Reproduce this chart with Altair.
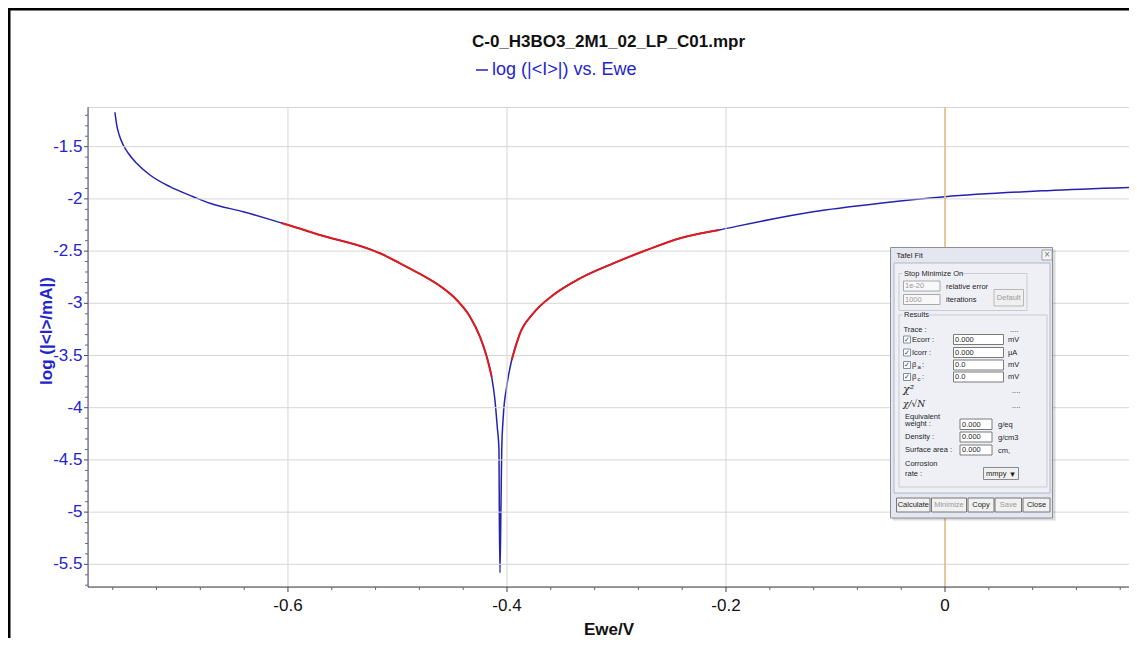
import altair as alt
import pandas as pd

# ---------------- data ----------------
TITLE = "C-0_H3BO3_2M1_02_LP_C01.mpr"
SERIES = "log (|<I>|) vs. Ewe"
X_TITLE = "Ewe/V"
Y_TITLE = "log (|<I>/mA|)"

ewe = [-0.7580, -0.7564, -0.7541, -0.7504, -0.7458, -0.7382, -0.7260, -0.7078, -0.6865, -0.6712,
       -0.6408, -0.6058, -0.5997, -0.5708, -0.5251, -0.5160, -0.4977, -0.4795, -0.4612, -0.4459,
       -0.4338, -0.4247, -0.4185, -0.4140, -0.4110, -0.4089, -0.4073, -0.4070, -0.4064,
       -0.4055, -0.4048, -0.4034, -0.4003, -0.3957, -0.3881, -0.3760, -0.3577, -0.3333,
       -0.3029, -0.2724, -0.2420, -0.2064, -0.1205, -0.0594, 0.0, 0.0932, 0.1753]
log_i = [-1.170, -1.292, -1.388, -1.484, -1.563, -1.659, -1.771, -1.883, -1.979, -2.042,
         -2.123, -2.231, -2.250, -2.346, -2.483, -2.521, -2.617, -2.719, -2.834, -2.968,
         -3.128, -3.320, -3.511, -3.703, -3.926, -4.182, -4.405, -5.000, -5.580,
         -4.950, -4.405, -4.086, -3.799, -3.543, -3.287, -3.096, -2.920, -2.761,
         -2.617, -2.490, -2.377, -2.298, -2.123, -2.042, -1.979, -1.921, -1.889]

FIT_RANGE = [-0.606, -0.206]     # Tafel fit window (red)
E_CORR = -0.4064
MARKER_E = [0.0]                 # vertical cursor line

X_DOMAIN = [-0.7826, 0.1680]
Y_DOMAIN = [-5.717, -1.120]
X_TICKS = [-0.6, -0.4, -0.2, 0]
X_LABELS = ["-0.6", "-0.4", "-0.2", "0"]
Y_TICKS = [-5.5, -5, -4.5, -4, -3.5, -3, -2.5, -2, -1.5]
Y_LABELS = ["-5.5", "-5", "-4.5", "-4", "-3.5", "-3", "-2.5", "-2", "-1.5"]
X_MINOR = [-0.76, -0.72, -0.68, -0.64, -0.56, -0.52, -0.48, -0.44, -0.36, -0.32,
           -0.28, -0.24, -0.16, -0.12, -0.08, -0.04, 0.04, 0.08, 0.12, 0.16]
Y_MINOR = [-5.7, -5.6, -5.4, -5.3, -5.2, -5.1, -4.9, -4.8, -4.7, -4.6, -4.4, -4.3, -4.2, -4.1,
           -3.9, -3.8, -3.7, -3.6, -3.4, -3.3, -3.2, -3.1, -2.9, -2.8, -2.7, -2.6, -2.4, -2.3,
           -2.2, -2.1, -1.9, -1.8, -1.7, -1.6, -1.4, -1.3, -1.2]

# ---------------- styles ----------------
BLUE_LINE = "#2323b0"
RED_LINE = "#e01b1b"
AXIS_BLUE = "#2424cc"
ORANGE = "#e8bb7c"
GRID = "#d6d6d6"
FONT = "Liberation Sans"
W, H = 1041, 480
PLOT_X0, PLOT_Y0 = 88, 107   # plot origin on the page (used to place guides and overlay)


def to_ewe(px):
    return X_DOMAIN[0] + (px - PLOT_X0) / W * (X_DOMAIN[1] - X_DOMAIN[0])


def to_log(py):
    return Y_DOMAIN[1] - (py - PLOT_Y0) / H * (Y_DOMAIN[1] - Y_DOMAIN[0])


xs = alt.Scale(domain=X_DOMAIN, nice=False, zero=False)
ys = alt.Scale(domain=Y_DOMAIN, nice=False, zero=False)


def X(f):
    return alt.X(f"{f}:Q", scale=xs, axis=None)


def Y(f):
    return alt.Y(f"{f}:Q", scale=ys, axis=None)


curve = pd.DataFrame({"ewe": ewe, "logi": log_i})
curve["series"] = SERIES
curve["order"] = range(len(curve))

fit = curve[(curve.ewe >= FIT_RANGE[0]) & (curve.ewe <= FIT_RANGE[1]) & (curve.logi > -3.75)].copy()
fit["side"] = ["c" if e < E_CORR else "a" for e in fit.ewe]

# ---------------- guides: grid, axis lines, ticks, labels, titles ----------------
PLOT_BOTTOM = PLOT_Y0 + H
xt = pd.DataFrame({"ewe": X_TICKS, "lab": X_LABELS})
xt["y0"], xt["y1"] = Y_DOMAIN[0], Y_DOMAIN[1]
xt["t1"] = to_log(PLOT_BOTTOM + 5)
xt["ly"] = to_log(PLOT_BOTTOM + 19)
yt = pd.DataFrame({"logi": Y_TICKS, "lab": Y_LABELS})
yt["x0"], yt["x1"] = X_DOMAIN[0], X_DOMAIN[1]
yt["t1"] = to_ewe(PLOT_X0 - 4)
yt["lx"] = to_ewe(PLOT_X0 - 5.5)

x_grid = alt.Chart(xt).mark_rule(color=GRID, strokeWidth=1).encode(x=X("ewe"), y=Y("y0"), y2="y1:Q")
y_grid = alt.Chart(yt).mark_rule(color=GRID, strokeWidth=1).encode(y=Y("logi"), x=X("x0"), x2="x1:Q")
x_ticks = alt.Chart(xt).mark_rule(color="#404040").encode(x=X("ewe"), y=Y("y0"), y2="t1:Q")
y_ticks = alt.Chart(yt).mark_rule(color="#4a4a70").encode(y=Y("logi"), x=X("t1"), x2="x0:Q")
x_labels = alt.Chart(xt).mark_text(font=FONT, fontSize=17, color="#111111", align="center",
                                   baseline="middle").encode(x=X("ewe"), y=Y("ly"), text="lab:N")
y_labels = alt.Chart(yt).mark_text(font=FONT, fontSize=17, color=AXIS_BLUE, align="right",
                                   baseline="middle").encode(x=X("lx"), y=Y("logi"), text="lab:N")

x_dom = pd.DataFrame({"x": [X_DOMAIN[0]], "x2": [X_DOMAIN[1]], "y": [Y_DOMAIN[0]]})
x_domain = alt.Chart(x_dom).mark_rule(strokeWidth=1, color="#404040").encode(
    x=X("x"), x2="x2:Q", y=Y("y"))
y_dom = pd.DataFrame({"x": [X_DOMAIN[0]], "y": [Y_DOMAIN[0]], "y2": [Y_DOMAIN[1]]})
y_domain = alt.Chart(y_dom).mark_rule(strokeWidth=1, color="#4a4a70").encode(
    x=X("x"), y=Y("y"), y2="y2:Q")

titles = pd.DataFrame({"t": [X_TITLE], "x": [to_ewe(609)], "y": [to_log(630)]})
x_title = alt.Chart(titles).mark_text(font=FONT, fontSize=17, fontWeight="bold", color="#111111",
                                      baseline="middle").encode(x=X("x"), y=Y("y"), text="t:N")
ytitles = pd.DataFrame({"t": [Y_TITLE], "x": [to_ewe(47)], "y": [to_log(331)]})
y_title = alt.Chart(ytitles).mark_text(font=FONT, fontSize=17, fontWeight="bold", color=AXIS_BLUE,
                                       baseline="middle", angle=270).encode(x=X("x"), y=Y("y"), text="t:N")

xm = pd.DataFrame({"ewe": X_MINOR})
xm["y0"] = Y_DOMAIN[0]
xm["y1"] = to_log(PLOT_BOTTOM + 3)
xminor = alt.Chart(xm).mark_rule(color="#666666").encode(x=X("ewe"), y=Y("y0"), y2="y1:Q")
ym = pd.DataFrame({"logi": Y_MINOR})
ym["x0"] = to_ewe(PLOT_X0 - 3)
ym["x1"] = X_DOMAIN[0]
yminor = alt.Chart(ym).mark_rule(color="#666688").encode(y=Y("logi"), x=X("x0"), x2="x1:Q")

# ---------------- data marks ----------------
blue = alt.Chart(curve).mark_line(strokeWidth=1.5, interpolate="monotone", clip=True).encode(
    x=X("ewe"), y=Y("logi"), order="order:Q",
    color=alt.Color("series:N", scale=alt.Scale(domain=[SERIES], range=[BLUE_LINE]),
                    legend=alt.Legend(title=None, orient="none", legendX=385, legendY=-46,
                                      symbolType="stroke", symbolSize=144, symbolStrokeWidth=1.5,
                                      labelFont=FONT, labelFontSize=18, labelColor=AXIS_BLUE,
                                      labelOffset=1)),
)
red = alt.Chart(fit).mark_line(strokeWidth=2, color=RED_LINE, interpolate="monotone", clip=True).encode(
    x=X("ewe"), y=Y("logi"), order="order:Q", detail="side:N")
marker = alt.Chart(pd.DataFrame({"ewe": MARKER_E})).mark_rule(color=ORANGE, strokeWidth=1.5).encode(
    x=X("ewe"))

# black frame of the screenshot (left and top edges)
frame = pd.DataFrame({
    "x": [to_ewe(9), to_ewe(7.5)],
    "x2": [to_ewe(9), to_ewe(PLOT_X0 + W)],
    "y": [to_log(7.5), to_log(9)],
    "y2": [to_log(660), to_log(9)],
})
frame_rules = alt.Chart(frame).mark_rule(color="black", strokeWidth=3).encode(
    x=X("x"), x2="x2:Q", y=Y("y"), y2="y2:Q")

# ---------------- "Tafel Fit" dialog overlay (page pixel layout) ----------------
PANEL = "#eef0f6"
rect_rows = [
    (892, 249, 1055, 520, "#000000", "transparent", 0.07),
    (893, 250, 1056, 521, "#000000", "transparent", 0.07),
    (890.5, 247.5, 1052.5, 518, "#e4e7ef", "#8e8e96", 1),
    (1042, 250, 1052, 260, "#f6f6f6", "#a0a0a8", 1),
    (894, 263, 1050, 493, PANEL, "#b4b6c4", 1),
    (899, 273.5, 1027, 310.5, "transparent", "#c8cad4", 1),
    (899, 315, 1047, 487, "transparent", "#c8cad4", 1),
    (902, 269, 961, 278, PANEL, "transparent", 1),
    (902, 311, 929, 319, PANEL, "transparent", 1),
    (903.5, 281, 940, 291, "#f8f8f8", "#a8a8a8", 1),
    (903.5, 294.5, 940, 304.5, "#f8f8f8", "#a8a8a8", 1),
    (994, 289.5, 1023.5, 306, "#f0f0f0", "#b8b8b8", 1),
]
ROWS = [339.5, 352.5, 365, 377]
for yc in ROWS:
    rect_rows.append((903.5, yc - 3.5, 910.5, yc + 3.5, "#ffffff", "#7f8ea0", 1))
    rect_rows.append((953.5, yc - 5, 1003.5, yc + 5, "#ffffff", "#7a7a7a", 1))
for (y1, y2) in [(419, 429.5), (432, 442), (445, 455)]:
    rect_rows.append((960, y1, 992, y2, "#ffffff", "#7a7a7a", 1))
rect_rows.append((983.5, 467.5, 1018.5, 479.5, "#f0f0f0", "#8a8a8a", 1))
for (x1, x2) in [(896.5, 930), (931.5, 966.5), (968, 994), (995, 1021.5), (1023, 1050)]:
    rect_rows.append((x1, 498, x2, 512, "#f1f1f1", "#767676", 1))

rects = pd.DataFrame(rect_rows, columns=["x", "y", "x2", "y2", "f", "s", "o"])
rects["x"] = rects["x"].map(to_ewe)
rects["x2"] = rects["x2"].map(to_ewe)
rects["y"] = rects["y"].map(to_log)
rects["y2"] = rects["y2"].map(to_log)
rects["k"] = range(len(rects))

INK, DIM = "#1e1e1e", "#9a9a9a"
left_text = [
    (896.5, 255.5, "Tafel Fit", INK, 7.5),
    (904, 273.5, "Stop Minimize On", INK, 7.5),
    (905, 286, "1e-20", DIM, 7.5),
    (905, 299.5, "1000", DIM, 7.5),
    (946, 286.5, "relative error", INK, 7.5),
    (946, 300, "iterations", INK, 7.5),
    (904, 315, "Results", INK, 7.5),
    (903.5, 329.5, "Trace :", INK, 7.5),
    (1010, 330, "....", INK, 7.5),
    (912, 339.5, "Ecorr :", INK, 7.5),
    (912, 352.5, "Icorr :", INK, 7.5),
    (912, 365, "β", INK, 7.5), (917.5, 367, "a", INK, 6), (922, 365, ":", INK, 7.5),
    (912, 377, "β", INK, 7.5), (917.5, 379, "c", INK, 6), (922, 377, ":", INK, 7.5),
    (955, 339.5, "0.000", INK, 7.5), (955, 352.5, "0.000", INK, 7.5),
    (955, 365, "0.0", INK, 7.5), (955, 377, "0.0", INK, 7.5),
    (1008, 339.5, "mV", INK, 7.5), (1008, 352.5, "µA", INK, 7.5),
    (1008, 365, "mV", INK, 7.5), (1008, 377, "mV", INK, 7.5),
    (1012, 391, "....", INK, 7.5), (1012, 406, "....", INK, 7.5),
    (905, 417, "Equivalent", INK, 7.5), (905, 424, "weight :", INK, 7.5),
    (962, 424.5, "0.000", INK, 7.5), (998, 425, "g/eq", INK, 7.5),
    (905, 437, "Density :", INK, 7.5), (962, 437, "0.000", INK, 7.5), (998, 438, "g/cm3", INK, 7.5),
    (905, 450, "Surface area :", INK, 7.5), (962, 450, "0.000", INK, 7.5), (998, 451, "cm,", INK, 7.5),
    (905, 464, "Corrosion", INK, 7.5), (905, 473.5, "rate :", INK, 7.5),
    (986, 473.5, "mmpy", INK, 7.5),
]
center_text = [
    (1008.7, 297.8, "Default", DIM, 7.5),
    (913.3, 505, "Calculate", INK, 7.5),
    (949, 505, "Minimize", DIM, 7.5),
    (981, 505, "Copy", INK, 7.5),
    (1008.3, 505, "Save", DIM, 7.5),
    (1036.5, 505, "Close", INK, 7.5),
]
symbol_text = [(907, 339.5, "✓", "#3a3a70", 7), (907, 352.5, "✓", "#3a3a70", 7),
               (907, 365, "✓", "#3a3a70", 7), (907, 377, "✓", "#3a3a70", 7),
               (1012.5, 473.5, "▾", INK, 9), (1047, 255, "×", "#707070", 8)]
serif_text = [(903, 390, "χ²", INK, 11), (903, 404, "χ/√N", INK, 9)]


def tdf(rows):
    d = pd.DataFrame(rows, columns=["x", "y", "t", "c", "sz"])
    d["x"] = d["x"].map(to_ewe)
    d["y"] = d["y"].map(to_log)
    return d


dlg_rects = alt.Chart(rects).mark_rect(strokeWidth=1).encode(
    x=X("x"), x2="x2:Q", y=Y("y"), y2="y2:Q",
    fill=alt.Fill("f:N", scale=None, legend=None),
    stroke=alt.Stroke("s:N", scale=None, legend=None),
    opacity=alt.Opacity("o:Q", scale=None, legend=None),
    order="k:Q",
)


def text_layer(rows, align, font, style="normal"):
    return alt.Chart(tdf(rows)).mark_text(align=align, baseline="middle", font=font,
                                          fontStyle=style).encode(
        x=X("x"), y=Y("y"), text="t:N",
        fill=alt.Fill("c:N", scale=None, legend=None),
        size=alt.Size("sz:Q", scale=None, legend=None),
    )


dlg_left = text_layer(left_text, "left", FONT)
dlg_center = text_layer(center_text, "center", FONT)
dlg_sym = text_layer(symbol_text, "center", "DejaVu Sans")
dlg_serif = text_layer(serif_text, "left", "DejaVu Serif", "italic")

chart = alt.layer(
    blue, x_grid, y_grid, marker, x_domain, y_domain, x_ticks, y_ticks, xminor, yminor,
    x_labels, y_labels, x_title, y_title, frame_rules, red,
    dlg_rects, dlg_left, dlg_center, dlg_sym, dlg_serif,
).properties(
    width=W, height=H,
    title=alt.Title(TITLE, font=FONT, fontSize=17, fontWeight="bold", color="#111111",
                    anchor="middle", frame="group", baseline="middle", offset=-52.5),
    padding={"left": 80, "top": 99, "right": 0, "bottom": 51},
    autosize=alt.AutoSizeParams(type="none"),
    background="white",
).configure_view(stroke=GRID)

chart.save("out.html", embed_options={"renderer": "svg", "actions": False})
